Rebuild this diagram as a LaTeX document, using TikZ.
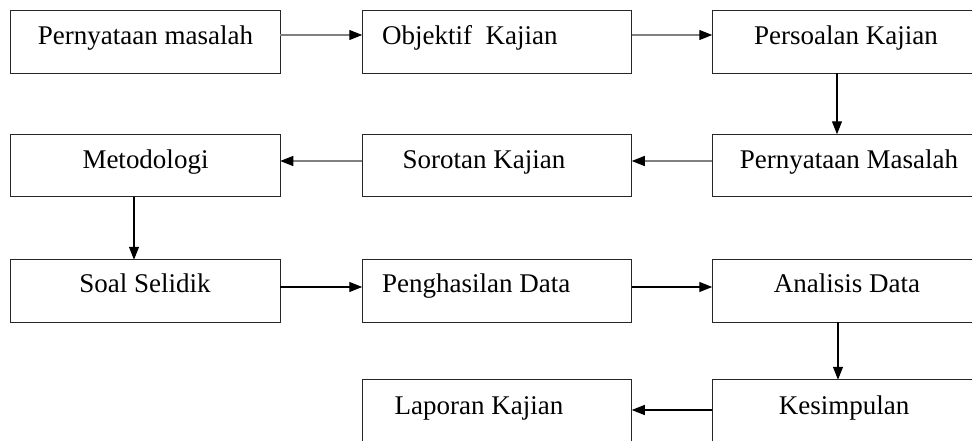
\documentclass[tikz,border=0pt]{standalone}
\usepackage{fontspec}
\setmainfont{Liberation Serif}
\usetikzlibrary{arrows.meta}
\begin{document}
\begin{tikzpicture}[x=1pt,y=-1pt,
  box/.style={draw=black!85,line width=1.4pt,minimum width=269.5pt,minimum height=62.5pt,inner sep=0pt,outer sep=0pt},
  lbl/.style={anchor=base,inner sep=0pt,font=\fontsize{27}{30}\selectfont},
  lblw/.style={anchor=base west,inner sep=0pt,font=\fontsize{27}{30}\selectfont},
  arr/.style={line width=1.3pt,-{Triangle[length=13pt,width=10pt,black]}},
  arrg/.style={arr,draw=black!50},
]
\useasboundingbox (0,0) rectangle (972,440);
\clip (0,0) rectangle (972,440);
\fill[white] (0,0) rectangle (972,440);
% boxes
\node[box] (b1) at (145.5,42) {};
\node[box] (b2) at (497,42) {};
\node[box] (b3) at (847,42) {};
\node[box] (b4) at (145.5,165.5) {};
\node[box] (b5) at (497,165.5) {};
\node[box] (b6) at (847,165.5) {};
\node[box] (b7) at (145.5,291) {};
\node[box] (b8) at (497,291) {};
\node[box] (b9) at (847,291) {};
\node[box] (b10) at (497,411) {};
\node[box] (b11) at (847,411) {};
% labels
\node[lbl] (t1) at (145.5,44) {Pernyataan masalah};
\node[lblw] (t2) at (382,44) {Objektif\ \ Kajian};
\node[lbl] (t3) at (846,44) {Persoalan Kajian};
\node[lbl] (t4) at (145.5,168) {Metodologi};
\node[lbl] (t5) at (484,168) {Sorotan Kajian};
\node[lbl] (t6) at (849,168) {Pernyataan Masalah};
\node[lbl] (t7) at (145,292) {Soal Selidik};
\node[lblw] (t8) at (382,292) {Penghasilan Data};
\node[lbl] (t9) at (847,292) {Analisis Data};
\node[lbl] (t10) at (479,414) {Laporan Kajian};
\node[lbl] (t11) at (844,414) {Kesimpulan};
% connectors
\draw[arrg] ([yshift=7pt]b1.east) -- ([yshift=7pt]b2.west);
\draw[arrg] ([yshift=7pt]b2.east) -- ([yshift=7pt]b3.west);
\draw[arr] ([xshift=-10pt]b3.south) -- ([xshift=-10pt]b6.north);
\draw[arrg] ([yshift=4.5pt]b6.west) -- ([yshift=4.5pt]b5.east);
\draw[arrg] ([yshift=4.5pt]b5.west) -- ([yshift=4.5pt]b4.east);
\draw[arr] ([xshift=-11.5pt]b4.south) -- ([xshift=-11.5pt]b7.north);
\draw[arr] ([yshift=4pt]b7.east) -- ([yshift=4pt]b8.west);
\draw[arr] ([yshift=4pt]b8.east) -- ([yshift=4pt]b9.west);
\draw[arr] ([xshift=-9pt]b9.south) -- ([xshift=-9pt]b11.north);
\draw[arr] ([yshift=1pt]b11.west) -- ([yshift=1pt]b10.east);
\end{tikzpicture}
\end{document}
